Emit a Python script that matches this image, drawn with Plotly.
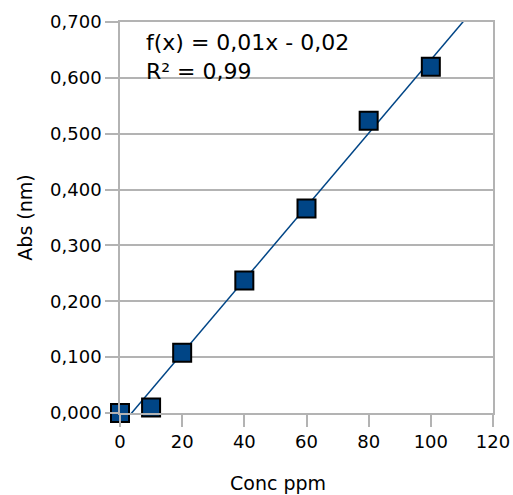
import numpy as np
import plotly.graph_objects as go

conc = [0, 10, 20, 40, 60, 80, 100]
absorb = [0.000, 0.010, 0.108, 0.237, 0.366, 0.523, 0.620]
x_ticks = [0, 20, 40, 60, 80, 100, 120]
y_ticks = [0.0, 0.1, 0.2, 0.3, 0.4, 0.5, 0.6, 0.7]
eq_text = "f(x) = 0,01x - 0,02<br>R² = 0,99"

slope, intercept = np.polyfit(conc, absorb, 1)
line_x = [0, 120]
line_y = [intercept + slope * v for v in line_x]

BLUE = "#004586"
GRID = "#b3b3b3"
FONT = "DejaVu Sans"

fig = go.Figure()
fig.add_trace(go.Scatter(x=line_x, y=line_y, mode="lines",
                         line=dict(color=BLUE, width=1.5), showlegend=False,
                         hoverinfo="skip"))
fig.add_trace(go.Scatter(x=conc, y=absorb, mode="markers", cliponaxis=False,
                         marker=dict(symbol="square", size=18, color=BLUE,
                                     line=dict(color="black", width=2)),
                         showlegend=False))

fig.add_annotation(x=0.065, y=0.985, xref="paper", yref="paper",
                   xanchor="left", yanchor="top", align="left",
                   text=eq_text, showarrow=False,
                   font=dict(family=FONT, size=22, color="black"))
fig.add_annotation(x=(278 - 120) / 373, y=-0.145, xref="paper", yref="paper",
                   xanchor="center", yanchor="top", text="Conc ppm",
                   showarrow=False, font=dict(family=FONT, size=19, color="black"))

fig.update_layout(
    width=513, height=495,
    margin=dict(l=120, r=20, t=22, b=82, autoexpand=False),
    paper_bgcolor="white", plot_bgcolor="white",
    separators=",.",
    font=dict(family=FONT, size=18, color="black"),
    xaxis=dict(range=[0, 120], tickvals=x_ticks, showgrid=False,
               showline=True, linecolor=GRID, linewidth=1.5, mirror=True,
               ticks="outside", ticklen=12, tickcolor=GRID, tickwidth=1.5,
               zeroline=False, tickfont=dict(family=FONT, size=18)),
    yaxis=dict(range=[0, 0.7], tickvals=y_ticks, tickformat=".3f",
               showgrid=True, gridcolor=GRID, gridwidth=1.5,
               showline=True, linecolor=GRID, linewidth=1.5, mirror=True,
               ticks="outside", ticklen=13, tickcolor=GRID, tickwidth=1.5,
               zeroline=False, tickfont=dict(family=FONT, size=18),
               title=dict(text="Abs (nm)", standoff=12,
                          font=dict(family=FONT, size=19))),
)

fig.write_html("out.html")
